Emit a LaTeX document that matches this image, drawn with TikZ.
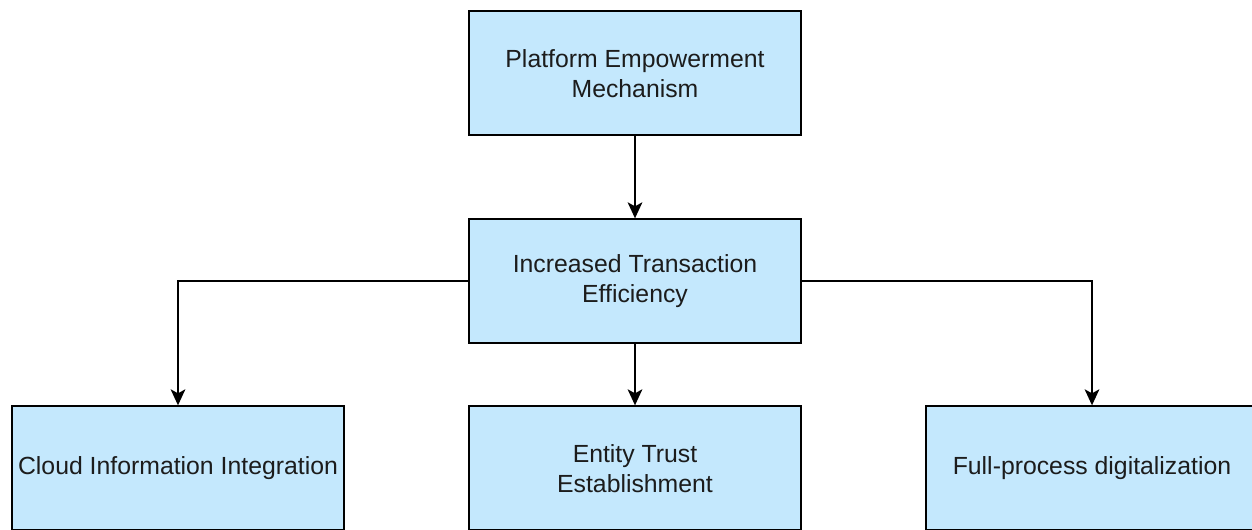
\documentclass[tikz,border=0pt]{standalone}
\usepackage{fontspec}
\setmainfont{Liberation Sans}
\usepackage{tikz}
\usetikzlibrary{
  positioning,
  arrows.meta
}
\definecolor{boxblue}{HTML}{C4E8FD}
\definecolor{boxtext}{HTML}{1C1C1C}

\begin{document}
\begin{tikzpicture}[
      node distance=45.75pt and 92.25pt,
      stagebox/.style={rectangle, draw, line width=1.5pt, fill=boxblue, minimum width=249pt, minimum height=93pt, align=center, text=boxtext, font=\fontsize{18.6}{22.5}\selectfont},
      arrow/.style={-{Stealth[length=12pt, width=11pt, inset=3pt]}, line width=1.5pt}
    ]
      \useasboundingbox (0,0) rectangle (939pt,-396.75pt);

      % Boxes
      \node[stagebox] (platform) at (476.25pt,-55pt) {Platform Empowerment\\Mechanism};
      \node[stagebox, below=61.5pt of platform] (efficiency) {Increased Transaction\\Efficiency};
      \node[stagebox, below=of efficiency] (trust) {Entity Trust\\Establishment};
      \node[stagebox, left=of trust] (cloud) {Cloud Information Integration};
      \node[stagebox, right=of trust] (digital) {Full-process digitalization};

      % Arrows
      \draw[arrow] (platform) -- (efficiency);
      \draw[arrow] (efficiency) -- (trust);
      \draw[arrow] (efficiency.west) -| (cloud.north);
      \draw[arrow] (efficiency.east) -| (digital.north);
    \end{tikzpicture}
\end{document}
